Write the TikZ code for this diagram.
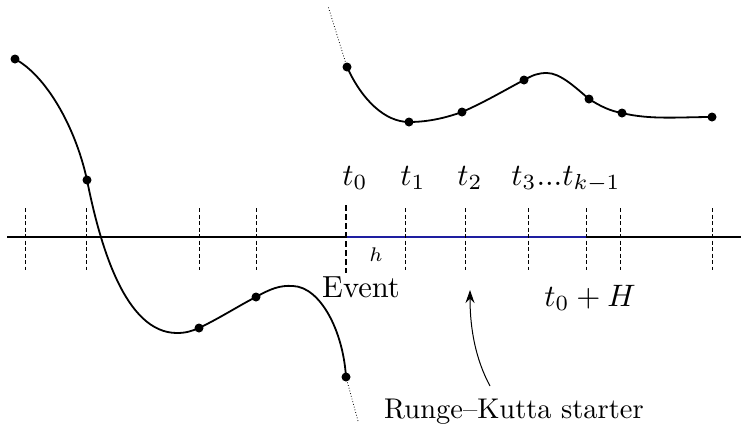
\documentclass[tikz,border=0pt]{standalone}
\usetikzlibrary{arrows.meta}
\definecolor{axisblue}{RGB}{30,30,160}
\newcommand{\bigtxt}[2]{\scalebox{#1}{#2}}
\begin{document}
\begin{tikzpicture}[x=1pt,y=-1pt,
  curve/.style={line width=1.8pt},
  tickline/.style={line width=1pt, dash pattern=on 4pt off 2.5pt},
  eventtick/.style={line width=1.8pt, dash pattern=on 6pt off 3pt},
  dot/.style={circle, fill=black, inner sep=0pt, minimum size=9pt},
  lab/.style={anchor=base, inner sep=0pt}]
\useasboundingbox (0,0) rectangle (741,424);

% axis
\coordinate (axL) at (7,237);
\coordinate (axR) at (741,237);
\coordinate (bS) at (346,237);
\coordinate (bE) at (586,237);
\draw[line width=1.3pt] (axL) -- (axR);
\draw[line width=1.5pt, axisblue] (bS) -- (bE);

% ticks
\foreach \x/\n in {25/a,86/b,199/c,256/d,405/e,465/f,528/g,586/h,620/i,712/j}{
  \coordinate (tt\n) at (\x,208);
  \coordinate (tb\n) at (\x,270);
  \draw[tickline] (tt\n) -- (tb\n);
}
\coordinate (evT) at (346,205);
\coordinate (evB) at (346,273);
\draw[eventtick] (evT) -- (evB);

% left curve
\node[dot] (l1) at (15,59) {};
\node[dot] (l2) at (87,180) {};
\node[dot] (l3) at (199,328) {};
\node[dot] (l4) at (256,297) {};
\node[dot] (l5) at (346,377) {};
\draw[curve] (l1.center) .. controls (45,75) and (75,125) .. (l2.center)
  .. controls (100,245) and (125,333) .. (177,333)
  .. controls (186,333) and (192,331) .. (l3.center)
  .. controls (220,318) and (240,305) .. (l4.center)
  .. controls (270,289) and (280,285) .. (293,286)
  .. controls (320,287) and (343,330) .. (l5.center);
\coordinate (ldot) at (358,421);
\draw[dotted, line width=0.8pt] (l5.center) -- (ldot);

% right curve
\node[dot] (r0) at (347,67) {};
\node[dot] (r1) at (409,122) {};
\node[dot] (r2) at (462,112) {};
\node[dot] (r3) at (524,80) {};
\node[dot] (r4) at (589,99) {};
\node[dot] (r5) at (622,113) {};
\node[dot] (r6) at (712,117) {};
\draw[curve] (r0.center) .. controls (362,100) and (385,122) .. (r1.center)
  .. controls (430,122) and (448,117) .. (r2.center)
  .. controls (485,102) and (505,90) .. (r3.center)
  .. controls (533,75) and (538,73) .. (547,73)
  .. controls (560,73) and (575,87) .. (r4.center)
  .. controls (600,106) and (610,111) .. (r5.center)
  .. controls (650,120) and (680,117) .. (r6.center);
\coordinate (rdot) at (328,6);
\draw[dotted, line width=0.8pt] (r0.center) -- (rdot);

% labels
\node[lab] (t0) at (355,185) {\bigtxt{3.1}{$t_0$}};
\node[lab] (t1) at (413,185) {\bigtxt{3.1}{$t_1$}};
\node[lab] (t2) at (470,185) {\bigtxt{3.1}{$t_2$}};
\node[lab] (t3) at (566,185) {\bigtxt{3.1}{$t_3...t_{k-1}$}};
\node[lab] (h) at (376,261) {\bigtxt{2.82}{\scriptsize$h$}};
\node[lab] (ev) at (361,297) {\bigtxt{3.05}{Event}};
\node[lab] (tH) at (590,306) {\bigtxt{3.1}{$t_0+H$}};
\node[lab] (rk) at (514,418) {\bigtxt{2.85}{Runge--Kutta starter}};

% arrow
\coordinate (aS) at (490,386);
\coordinate (aE) at (470,290);
\draw[-{Stealth[length=13pt,width=9pt]}, line width=1pt] (aS) .. controls (476,360) and (470,330) .. (aE);
\end{tikzpicture}
\end{document}
